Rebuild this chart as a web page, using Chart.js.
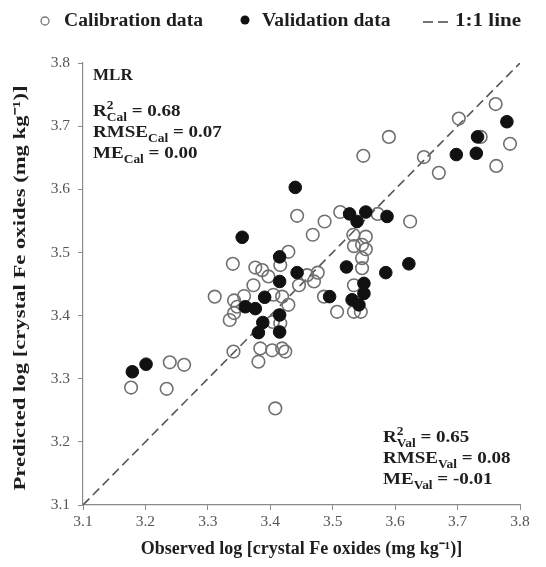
<!DOCTYPE html>
<html>
<head>
<meta charset="utf-8">
<script src="https://cdn.jsdelivr.net/npm/chart.js@4.4.0/dist/chart.umd.min.js"></script>
<style>
  html, body { margin: 0; padding: 0; background: #fff; }
  canvas { display: block; }
</style>
</head>
<body>
<canvas id="feChart" width="546" height="567"></canvas>
<script>
// Observed vs predicted log crystalline Fe oxides (MLR model)
const calObserved = [
  3.177, 3.239, 3.262, 3.234, 3.341, 3.408, 3.311, 3.342, 3.335, 3.342,
  3.358, 3.373, 3.405, 3.419, 3.429, 3.404, 3.384, 3.403, 3.419, 3.424,
  3.381, 3.446, 3.443, 3.340, 3.376, 3.387, 3.429, 3.416, 3.397, 3.347,
  3.416, 3.761, 3.784, 3.762, 3.737, 3.702, 3.646, 3.670, 3.590, 3.549,
  3.487, 3.468, 3.512, 3.572, 3.624, 3.533, 3.553, 3.534, 3.547, 3.553,
  3.547, 3.547, 3.476, 3.534, 3.534, 3.545, 3.507, 3.486, 3.470, 3.459
];
const calPredicted = [
  3.286, 3.326, 3.322, 3.284, 3.343, 3.253, 3.430, 3.424, 3.393, 3.404,
  3.431, 3.448, 3.433, 3.430, 3.417, 3.390, 3.348, 3.345, 3.348, 3.343,
  3.327, 3.448, 3.558, 3.482, 3.476, 3.472, 3.501, 3.480, 3.462, 3.414,
  3.388, 3.735, 3.672, 3.637, 3.683, 3.712, 3.651, 3.626, 3.683, 3.653,
  3.549, 3.528, 3.564, 3.561, 3.549, 3.528, 3.525, 3.510, 3.512, 3.505,
  3.491, 3.475, 3.468, 3.448, 3.406, 3.406, 3.406, 3.430, 3.454, 3.464
];
const valObserved = [
  3.179, 3.201, 3.355, 3.360, 3.376, 3.391, 3.388, 3.381, 3.415, 3.415,
  3.415, 3.415, 3.443, 3.440, 3.522, 3.527, 3.539, 3.553, 3.587, 3.585,
  3.622, 3.550, 3.550, 3.531, 3.542, 3.495, 3.698, 3.730, 3.732, 3.779
];
const valPredicted = [
  3.311, 3.323, 3.524, 3.414, 3.411, 3.429, 3.389, 3.373, 3.401, 3.374,
  3.454, 3.493, 3.468, 3.603, 3.477, 3.561, 3.549, 3.564, 3.557, 3.468,
  3.482, 3.451, 3.435, 3.425, 3.417, 3.430, 3.655, 3.657, 3.683, 3.707
];
const oneToOne = [3.1, 3.8];
const axisTicks = [3.1, 3.2, 3.3, 3.4, 3.5, 3.6, 3.7, 3.8];

// [symbol, superscript, subscript, value]
const calStats = [['R', '2', 'Cal', '0.68'], ['RMSE', '', 'Cal', '0.07'], ['ME', '', 'Cal', '0.00']];
const valStats = [['R', '2', 'Val', '0.65'], ['RMSE', '', 'Val', '0.08'], ['ME', '', 'Val', '-0.01']];

const serif = '"Liberation Serif", "Times New Roman", serif';
const ink = '#1e1e1e';
const toPoints = (xs, ys) => xs.map((x, i) => ({ x: x, y: ys[i] }));

// text drawn a little wider than the font's natural width
function wideText(ctx, text, x, y, sx) {
  ctx.save();
  ctx.translate(x, y);
  ctx.scale(sx, 1);
  ctx.fillText(text, 0, 0);
  ctx.restore();
  return ctx.measureText(text).width * sx;
}

function drawStat(ctx, x, y, row) {
  const [sym, sup, sub, val] = row;
  const sx = 1.12;
  ctx.font = 'bold 17px ' + serif;
  let cx = x + wideText(ctx, sym, x, y, sx);
  ctx.font = 'bold 12px ' + serif;
  let w = 0;
  if (sup) w = wideText(ctx, sup, cx, y - 6, sx);
  w = Math.max(w, wideText(ctx, sub, cx, y + 6, sx));
  cx += w;
  ctx.font = 'bold 17px ' + serif;
  wideText(ctx, ' = ' + val, cx, y, sx);
}

const decorations = {
  id: 'decorations',
  afterDraw(chart) {
    const ctx = chart.ctx;
    const labels = chart.data.datasets.map(d => d.label);
    ctx.save();
    ctx.fillStyle = ink;
    ctx.textBaseline = 'middle';
    ctx.textAlign = 'left';

    // legend row
    ctx.font = 'bold 18px ' + serif;
    ctx.lineWidth = 1.3;
    ctx.strokeStyle = '#777';
    ctx.beginPath();
    ctx.arc(45, 21, 4, 0, Math.PI * 2);
    ctx.stroke();
    wideText(ctx, labels[0], 64, 21, 1.09);
    ctx.fillStyle = '#111';
    ctx.beginPath();
    ctx.arc(245, 20, 4.5, 0, Math.PI * 2);
    ctx.fill();
    ctx.fillStyle = ink;
    wideText(ctx, labels[1], 262, 21, 1.09);
    ctx.strokeStyle = '#444';
    ctx.lineWidth = 1.6;
    ctx.beginPath();
    ctx.moveTo(423, 22); ctx.lineTo(433, 22);
    ctx.moveTo(438, 22); ctx.lineTo(448, 22);
    ctx.stroke();
    wideText(ctx, labels[2], 455, 21, 1.17);

    // model name and fit statistics
    ctx.font = 'bold 17px ' + serif;
    ctx.fillText('MLR', 93, 76);
    calStats.forEach((row, i) => drawStat(ctx, 93, 112 + i * 21, row));
    valStats.forEach((row, i) => drawStat(ctx, 383, 438 + i * 21, row));

    // y axis title
    const yTitle = 'Predicted log [crystal Fe oxides (mg kg\u207B\u00B9)]';
    ctx.translate(21, 288);
    ctx.rotate(-Math.PI / 2);
    ctx.font = 'bold 17px ' + serif;
    const tw = ctx.measureText(yTitle).width;
    ctx.scale(405 / tw, 1);
    ctx.textAlign = 'center';
    ctx.fillText(yTitle, 0, 0);
    ctx.restore();
  }
};

const axisCommon = {
  type: 'linear',
  min: 3.1,
  max: 3.8,
  afterBuildTicks: s => { s.ticks = axisTicks.map(v => ({ value: v })); },
  ticks: {
    font: { family: serif, size: 15.5 },
    color: '#555',
    callback: v => v.toFixed(1)
  },
  grid: { drawOnChartArea: false, tickLength: 5, color: '#8a8a8a', lineWidth: 1 },
  border: { color: '#8a8a8a', width: 1.2 }
};

new Chart(document.getElementById('feChart'), {
  type: 'scatter',
  data: {
    datasets: [
      {
        label: 'Calibration data',
        data: toPoints(calObserved, calPredicted),
        pointRadius: 6.3,
        pointBorderWidth: 1.6,
        pointBorderColor: '#707070',
        pointBackgroundColor: 'rgba(255,255,255,0)',
        order: 1
      },
      {
        label: 'Validation data',
        data: toPoints(valObserved, valPredicted),
        pointRadius: 6.3,
        pointBorderWidth: 1,
        pointBorderColor: '#111',
        pointBackgroundColor: '#111',
        order: 0
      },
      {
        label: '1:1 line',
        type: 'line',
        data: toPoints(oneToOne, oneToOne),
        borderColor: '#555',
        borderWidth: 1.6,
        borderDash: [9, 5],
        pointRadius: 0,
        fill: false,
        order: 2
      }
    ]
  },
  options: {
    responsive: false,
    animation: false,
    layout: { padding: { top: 63, right: 26, bottom: 0, left: 0 } },
    plugins: {
      legend: { display: false },
      tooltip: { enabled: false }
    },
    scales: {
      x: Object.assign({}, axisCommon, {
        afterFit: s => { s.height = 62; },
        ticks: Object.assign({}, axisCommon.ticks, { padding: 3 }),
        title: {
          display: true,
          text: 'Observed log [crystal Fe oxides (mg kg\u207B\u00B9)]',
          font: { family: serif, size: 18, weight: 'bold' },
          color: ink,
          padding: { top: 0, bottom: 7 }
        }
      }),
      y: Object.assign({}, axisCommon, {
        afterFit: s => { s.width = 83; },
        ticks: Object.assign({}, axisCommon.ticks, { padding: 8 })
      })
    }
  },
  plugins: [decorations]
});
</script>
</body>
</html>
